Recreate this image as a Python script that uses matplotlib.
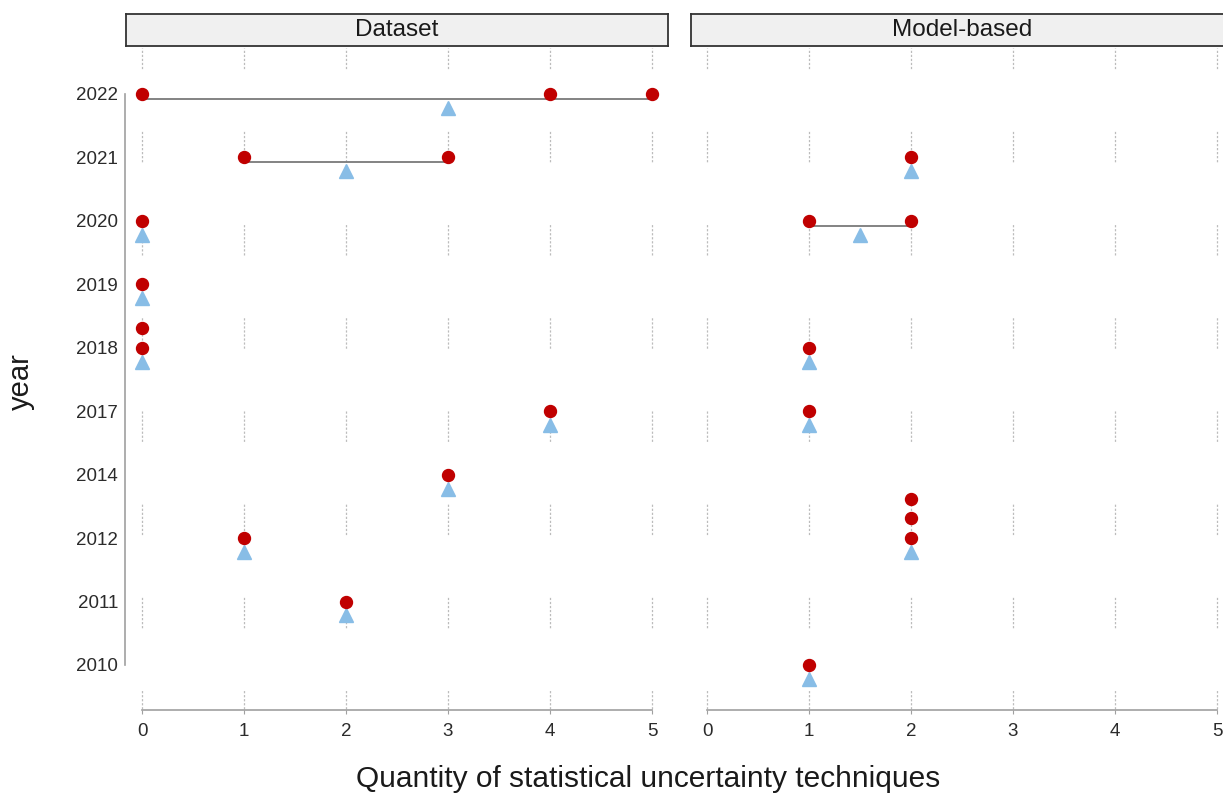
import numpy as np
import pandas as pd
import matplotlib
matplotlib.use('Agg')
import matplotlib.pyplot as plt

plt.rcParams['font.family'] = ['Liberation Sans', 'DejaVu Sans']
plt.rcParams['lines.scale_dashes'] = False

# year levels on the y axis (bottom to top)
years = ['2010', '2011', '2012', '2014', '2017', '2018', '2019', '2020', '2021', '2022']

# one entry per paper: publication year and number of techniques
dataset_years = ['2022', '2022', '2022', '2021', '2021', '2020', '2019', '2018', '2018', '2017', '2014', '2012', '2011']
dataset_counts = [0, 4, 5, 1, 3, 0, 0, 0, 0, 4, 3, 1, 2]

model_years = ['2021', '2020', '2020', '2018', '2017', '2012', '2012', '2012', '2010']
model_counts = [2, 1, 2, 1, 1, 2, 2, 2, 1]

facets = ['Dataset', 'Model-based']
x_ticks = [0, 1, 2, 3, 4, 5]

RED = '#c00000'
BLUE = '#88bde6'
W, H = 1223, 799


def box(l, t, r, b):
    return [l / W, 1 - b / H, (r - l) / W, (b - t) / H]


fig = plt.figure(figsize=(W / 100, H / 100), dpi=100)

# long dashes made of fine dashes, like the reference grid
grid_pattern = (7.9, tuple([1.6, 1.3] * 7 + [1.6, 45.2]))

data = [(dataset_years, dataset_counts), (model_years, model_counts)]
lefts = [125, 690]

for name, (yrs, cnts), left in zip(facets, data, lefts):
    ax = fig.add_axes(box(left, 48, left + 543, 710))
    ax.set_xlim(-0.167, 5.157)
    ax.set_ylim(0.29, 10.725)

    for x in x_ticks:
        ax.axvline(x, color='#bcbcbc', lw=0.9, linestyle=grid_pattern, zorder=0)

    df = pd.DataFrame({'year': yrs, 'n': cnts})
    df['y'] = df['year'].map(lambda v: years.index(v) + 1)
    df['stack'] = df.groupby(['year', 'n']).cumcount()

    summ = df.groupby('y')['n'].agg(['mean', 'min', 'max']).reset_index()
    for _, r in summ.iterrows():
        if r['max'] > r['min']:
            ax.plot([r['min'], r['max']], [r['y'] - 0.075] * 2, color='#7a7a7a',
                    lw=1.3, zorder=2, solid_capstyle='butt')
    ax.plot(summ['mean'], summ['y'] - 0.22, linestyle='none', marker='^',
            markersize=9.5, color=BLUE, zorder=3, clip_on=False)
    ax.plot(df['n'], df['y'] + df['stack'] * 0.31, linestyle='none', marker='o',
            markersize=8.6, color=RED, zorder=4, clip_on=False)

    for s in ['top', 'right']:
        ax.spines[s].set_visible(False)
    ax.spines['bottom'].set_bounds(0, 5)
    ax.spines['bottom'].set_color('#a0a0a0')
    ax.spines['bottom'].set_linewidth(1.2)
    ax.set_xticks(x_ticks)
    ax.tick_params(axis='x', length=3, color='#a0a0a0', labelsize=13.5,
                   labelcolor='#2b2b2b', pad=6)
    ax.set_yticks(range(1, len(years) + 1))
    if left == lefts[0]:
        ax.spines['left'].set_bounds(1, len(years))
        ax.spines['left'].set_color('#a0a0a0')
        ax.spines['left'].set_linewidth(1.2)
        ax.set_yticklabels(years)
        ax.tick_params(axis='y', length=0, labelsize=13.5, labelcolor='#2b2b2b', pad=5)
    else:
        ax.spines['left'].set_visible(False)
        ax.tick_params(axis='y', length=0, labelleft=False)

    sax = fig.add_axes(box(left + 1, 14, left + 543, 46))
    sax.set_facecolor('#f0f0f0')
    sax.set_xticks([])
    sax.set_yticks([])
    for s in sax.spines.values():
        s.set_color('#333333')
        s.set_linewidth(1.3)
    sax.text(0.5, 0.5, name, ha='center', va='center', fontsize=17.5,
             color='#1a1a1a', transform=sax.transAxes)

fig.text(648 / W, 1 - 779 / H, 'Quantity of statistical uncertainty techniques',
         ha='center', va='center', fontsize=21.5, color='#1a1a1a')
fig.text(21 / W, 1 - 382 / H, 'year', rotation=90, ha='center', va='center',
         fontsize=21, color='#1a1a1a')

fig.savefig('out.png', dpi=100)
